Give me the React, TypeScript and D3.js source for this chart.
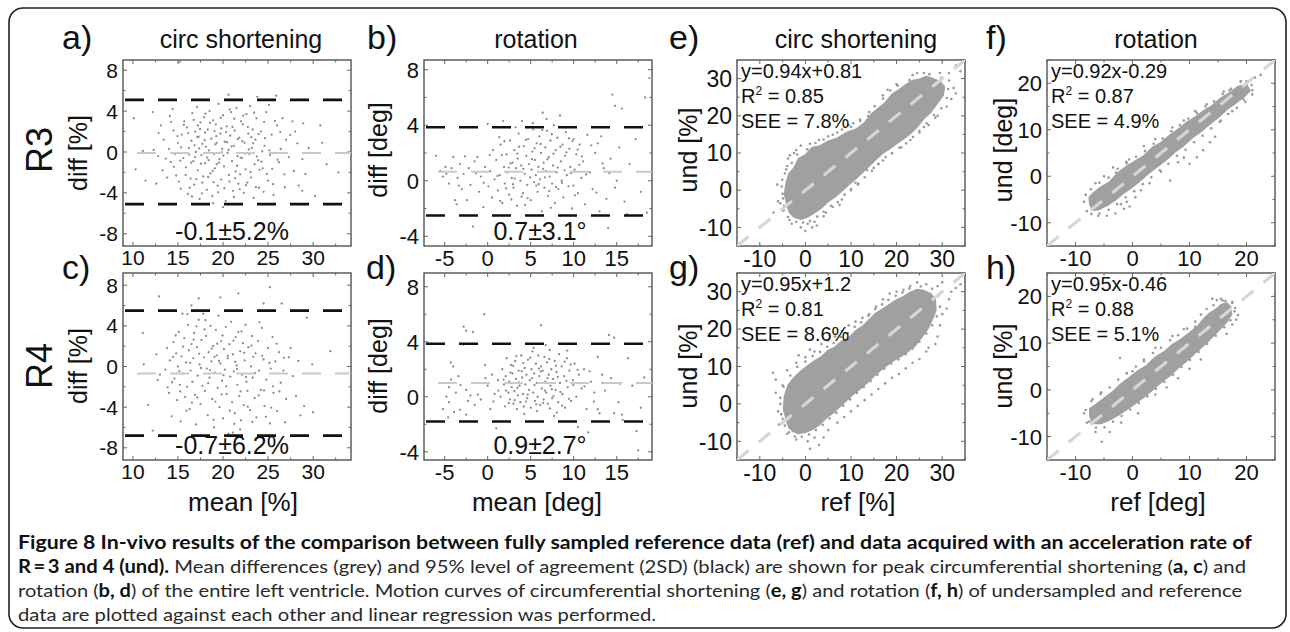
import * as d3 from "d3";

type P = [number, number];

// Bland-Altman points: [mean, diff]
const aPts: P[] = [
  [10.1,3.3],[11.1,0.1],[11.4,-2.8],[10.3,-1.7],[12.3,0.2],[12.8,-0.4],[13.1,2.6],[12.6,-3.1],[13.4,1.2],[13.3,-1.8],[12.2,3.9],
  [14.0,0.3],[14.2,-1.0],[14.5,2.1],[14.1,3.5],[14.8,-2.3],[15.0,0.9],[15.2,8.8],[15.3,-3.6],[15.4,1.7],[15.6,-0.6],[15.7,3.0],[15.9,-1.5],[16.0,2.4],[16.1,-4.1],[14.7,-0.2],[15.1,-2.9],[16.2,0.4],[13.8,-2.5],[14.4,4.2],[16.4,-2.6],
  [16.5,1.1],[16.6,3.8],[16.7,-0.9],[16.8,-3.2],[16.9,2.0],[17.0,0.0],[17.1,4.4],[17.2,-1.8],[17.3,1.5],[17.4,-4.6],[17.5,2.9],[17.6,-0.3],[17.7,0.8],[17.8,-2.4],[17.9,3.4],[18.0,-1.1],[16.3,-3.5],[17.2,2.6],[16.9,-0.5],[17.7,-3.0],[18.0,1.9],
  [18.1,0.5],[18.2,-3.7],[18.3,2.2],[18.4,-0.8],[18.5,4.0],[18.6,-2.1],[18.7,1.3],[18.8,-4.3],[18.9,3.1],[19.0,-0.2],[19.1,-1.6],[19.2,2.7],[19.3,0.9],[19.4,-3.3],[19.5,4.7],[19.6,-0.7],[19.7,1.8],[19.8,-2.7],[19.9,0.3],[20.0,3.6],[18.9,-5.0],[19.3,-1.2],[19.8,2.3],
  [20.1,-1.4],[20.2,1.0],[20.3,-4.8],[20.4,2.5],[20.5,-0.1],[20.6,5.6],[20.7,-2.9],[20.8,1.6],[20.9,3.9],[21.0,-0.9],[21.1,-3.8],[21.2,0.6],[21.3,2.1],[21.4,-1.9],[21.5,4.3],[21.6,-0.4],[21.7,-3.1],[21.8,1.4],[21.9,-2.2],[22.0,3.0],[20.0,-5.4],[21.2,-4.4],[20.6,0.2],
  [22.1,-0.6],[22.2,2.7],[22.3,-4.0],[22.4,0.9],[22.5,-1.7],[22.6,3.7],[22.7,-3.0],[22.8,1.8],[22.9,-0.2],[23.0,4.5],[23.1,-2.5],[23.2,0.4],[23.3,2.2],[23.4,-4.5],[23.5,-1.2],[23.6,1.2],[23.7,3.3],[23.8,5.4],[23.9,-0.8],[24.0,-3.5],
  [24.2,2.0],[24.4,-1.6],[24.6,0.6],[24.8,3.9],[25.0,-2.8],[25.2,-0.3],[25.4,1.7],[25.6,-4.2],[25.9,5.5],[26.0,2.6],[26.2,-1.0],[26.4,0.3],[26.6,3.3],[26.8,-2.2],[27.0,1.2],[25.1,4.6],[24.5,-3.9],
  [27.3,-0.5],[27.7,3.0],[28.0,2.0],[28.4,-3.3],[28.8,-0.7],[28.9,2.8],[28.8,-3.8],[29.5,0.4],[30.8,2.6],[31.0,0.9],[31.5,-1.2],[32.8,-2.0],[30.2,-4.3],
  [15.35,0.45],[15.85,-2.25],[16.15,1.85],[16.45,-1.05],[16.75,3.15],[17.05,-2.65],[17.35,0.35],[17.65,-4.05],[17.95,1.15],[18.25,-0.55],[18.55,2.85],[18.85,-1.85],[19.15,0.75],[19.45,-3.95],[19.75,3.35],[20.05,-0.35],[20.35,1.95],[20.65,-2.25],[20.95,0.55],[21.25,3.25],
  [21.55,-1.35],[21.85,-3.65],[22.15,1.05],[22.45,-0.15],[22.75,2.45],[23.05,-1.95],[23.35,0.85],[23.65,-3.45],[23.95,1.75],[24.25,-0.95],[24.55,2.95],[24.85,-2.15],[25.15,0.15],[25.45,-1.65],[25.75,3.05],[26.05,-0.75],[16.25,-0.25],[17.15,1.45],[18.05,3.75],[18.95,-2.95],
  [19.85,-0.05],[20.75,4.15],[21.65,1.25],[22.55,-3.25],[23.45,3.85],[24.35,0.05],[15.65,2.65],[16.55,-4.35],[17.45,2.25],[18.35,-2.45],[19.25,1.55],[20.15,-3.55],[21.05,2.45],[21.95,-0.55],[22.85,0.25],[23.75,-0.45],[24.65,1.35],[25.55,-3.15],[14.55,-1.45],[14.95,1.55],
  [15.25,-0.85],[16.85,0.65],[17.55,-1.15],[18.45,0.15],[19.05,2.05],[19.55,-1.05],[20.45,0.95],[21.35,-2.55],[22.25,3.55],[23.15,1.45],[24.05,-1.75],[26.35,1.95],[26.85,-3.45],[27.45,1.65],[14.25,2.95],[13.65,-0.65],[12.85,1.85],[27.85,-1.85],[29.15,-2.15],[28.25,0.85],
];

const bPts: P[] = [
  [-6.0,1.8],[-5.5,0.7],[-5.2,0.3],[-4.9,1.0],[-4.8,0.5],[-4.5,-0.2],[-4.2,0.9],[-4.0,1.7],[-3.8,-1.4],[-3.6,-1.7],[-3.5,0.2],[-3.2,1.2],[-3.0,-0.6],[-2.8,0.5],[-2.4,-1.4],[-2.2,0.9],[-2.0,-0.3],[-1.7,-3.3],[-1.5,1.4],[-1.2,1.7],[-1.0,-0.8],[-0.8,0.3],[-0.5,-1.9],[-0.3,1.0],[0.0,4.1],[0.1,-0.4],[0.3,0.7],[0.5,-1.2],[0.6,2.2],[0.8,0.1],
  [1.0,1.5],[1.2,-0.7],[1.4,0.4],[1.5,2.6],[1.7,-1.6],[1.8,4.3],[1.9,1.0],[2.0,-0.2],[2.2,1.9],[2.3,0.6],[2.5,-1.0],[2.6,2.9],[2.8,0.2],[2.9,1.3],[3.0,-0.5],[3.1,2.2],[3.3,0.9],[3.4,-1.8],[3.5,1.6],[3.6,3.4],[3.8,0.0],[3.9,1.1],[4.0,4.3],[4.1,-0.9],[4.2,2.5],[4.3,0.5],[4.5,1.8],[4.6,-0.3],[4.7,3.0],[4.8,1.2],
  [5.0,-1.4],[5.1,0.8],[5.2,2.1],[5.3,3.7],[5.4,-0.1],[5.5,1.5],[5.6,0.4],[5.7,2.7],[5.8,-0.8],[5.9,1.0],[6.0,3.2],[6.1,0.1],[6.2,2.0],[6.3,-2.2],[6.4,4.9],[6.5,1.3],[6.6,-0.5],[6.7,2.4],[6.8,0.7],[6.9,3.6],[7.0,-1.1],[7.1,1.7],[7.2,0.3],[7.3,2.9],[7.5,-0.2],[7.6,1.1],[7.7,4.0],[7.8,-1.6],[7.9,2.2],[8.0,0.6],
  [8.1,3.1],[8.2,-0.6],[8.4,4.7],[8.5,1.4],[8.6,0.0],[8.7,2.6],[8.8,-1.2],[9.0,1.8],[9.1,3.5],[9.2,0.4],[9.4,-0.4],[9.5,2.3],[9.6,1.0],[9.8,-2.0],[10.0,3.0],[10.1,0.8],[10.3,1.9],[10.5,-0.9],[10.7,2.6],[10.9,0.2],[11.1,1.4],[11.3,-1.7],
  [11.6,3.3],[11.9,0.6],[12.2,-0.6],[12.5,2.0],[12.8,2.7],[13.2,3.2],[13.0,-2.2],[13.5,0.9],[13.8,-1.3],[14.0,-3.4],[14.3,1.6],[14.5,6.2],[14.8,5.4],[14.8,-0.5],[15.0,0.0],[15.3,2.4],[15.6,5.2],[15.9,-1.5],[16.2,-2.4],[16.5,1.2],[17.2,3.0],[17.8,-0.8],[18.3,6.0],[18.8,7.4],[18.5,-2.3],
  [1.15,0.35],[1.65,1.85],[2.15,-0.55],[2.65,1.25],[3.15,0.15],[3.65,2.45],[4.15,0.85],[4.65,-1.25],[5.15,1.55],[5.65,-0.35],[6.15,2.65],[6.65,0.25],[7.15,-0.75],[7.65,1.95],[8.15,0.95],[8.65,-0.15],[9.15,2.05],[9.65,0.55],[10.15,-1.05],[10.65,1.15],
  [1.45,-1.45],[1.95,2.85],[2.45,0.95],[2.95,-0.25],[3.45,1.95],[3.95,-1.15],[4.45,2.95],[4.95,0.25],[5.45,2.35],[5.95,-0.25],[6.45,0.85],[6.95,1.55],[7.45,3.35],[7.95,-0.45],[8.45,2.45],[8.95,0.75],[9.45,3.05],[9.95,-0.35],[10.45,2.25],[10.95,1.75],
  [0.25,1.85],[-0.45,-0.15],[-1.35,0.55],[-2.65,1.75],[-3.35,-0.35],[11.45,0.45],[12.05,2.55],[12.65,-0.85],[13.35,1.25],[14.15,0.55],[5.25,4.15],[6.85,4.45],[3.25,3.85],[7.35,-1.95],[4.35,-1.75],[2.75,-1.35],[8.85,3.85],[9.85,2.85],[6.35,3.65],[1.35,3.15],
];

const cPts: P[] = [
  [11.1,3.3],[11.2,0.2],[11.7,-3.8],[12.9,6.9],[12.2,-6.3],[17.3,6.7],[19.7,6.8],[21.7,7.2],[25.2,7.8],[24.5,6.2],[26.5,6.2],[29.3,4.8],[29.9,0.2],[30.0,-4.5],[28.6,-4.8],[26.9,-5.5],[21.9,-6.2],[21.1,-6.5],[27.5,1.8],[31.9,1.5],[29.0,-3.9],[28.1,-2.9],
  [13.6,-0.3],[13.8,1.8],[14.0,-2.6],[14.1,0.6],[14.3,-4.9],[14.5,2.4],[14.6,-1.2],[14.8,1.3],[14.9,-3.3],[15.0,0.0],[15.1,3.4],[15.2,-1.8],[15.3,-5.4],[15.4,1.0],[15.6,-0.7],[15.7,2.8],[15.8,-3.0],[15.9,0.4],[16.0,-2.0],[16.1,4.1],[16.2,1.6],[16.3,-4.2],[16.4,-0.4],[16.5,2.2],
  [16.6,-1.5],[16.7,0.8],[16.8,3.3],[16.9,-2.8],[17.0,-5.7],[17.1,1.9],[17.2,-0.9],[17.3,4.6],[17.4,0.2],[17.5,-3.7],[17.6,2.6],[17.7,-1.9],[17.8,5.2],[17.9,0.9],[18.0,-2.4],[18.1,3.0],[18.2,-0.2],[18.3,-4.8],[18.4,1.4],[18.5,-1.1],[18.6,4.0],[18.7,0.5],[18.8,-3.2],[18.9,2.0],
  [19.0,-6.0],[19.1,-0.6],[19.2,3.6],[19.3,1.1],[19.4,-2.1],[19.5,5.0],[19.6,-4.0],[19.7,0.3],[19.8,2.5],[19.9,-1.4],[20.0,-5.1],[20.1,1.7],[20.2,-0.3],[20.3,3.9],[20.4,-2.7],[20.5,0.8],[20.6,-6.6],[20.7,2.2],[20.8,-1.0],[20.9,4.4],[21.0,-3.5],[21.1,1.2],[21.2,-0.5],[21.3,-4.6],
  [21.4,2.9],[21.5,0.1],[21.6,-1.8],[21.7,3.4],[21.8,-2.9],[21.9,1.5],[22.0,-5.3],[22.1,-0.8],[22.2,2.3],[22.3,-3.8],[22.4,0.6],[22.5,4.1],[22.6,-1.5],[22.7,-2.4],[22.8,1.9],[23.0,-4.3],[23.1,0.0],[23.2,3.0],[23.3,-1.1],[23.5,-3.1],[23.6,1.3],[23.7,-5.0],[23.9,2.5],[24.0,-0.4],
  [24.2,-2.3],[24.3,3.8],[24.5,0.7],[24.6,-3.9],[24.8,-1.3],[25.0,1.8],[25.2,-5.6],[25.3,-0.2],[25.5,2.9],[25.6,-2.6],[25.8,0.5],[26.0,-4.4],[26.2,1.4],[26.4,-1.6],[26.7,-0.4],[27.0,-3.2],[27.3,0.9],[13.0,-0.8],[12.6,1.2],[15.5,5.2],[16.5,6.0],
  [14.35,-1.55],[14.75,3.05],[15.15,-0.45],[15.55,1.95],[15.95,-4.35],[16.35,0.35],[16.75,2.65],[17.15,-3.05],[17.55,-0.15],[17.95,3.65],[18.35,-1.65],[18.75,1.75],[19.15,-3.45],[19.55,0.55],[19.95,3.05],[20.35,-1.95],[20.75,-4.35],[21.15,2.55],[21.55,-0.25],[21.95,-2.45],
  [22.35,1.35],[22.75,-3.95],[23.15,2.05],[23.55,-0.65],[23.95,-2.85],[24.35,1.05],[24.75,-4.95],[25.15,0.35],[25.55,-1.95],[25.95,2.25],[16.05,5.15],[17.05,3.95],[18.05,4.55],[18.95,-5.25],[19.85,-2.75],[20.25,5.45],[21.25,-5.65],[22.05,3.45],[23.25,-5.45],[24.05,4.35],
  [15.25,-2.45],[16.55,-3.55],[17.35,1.25],[18.55,-0.35],[19.35,2.25],[20.55,1.05],[21.35,0.45],[22.55,-1.05],[23.35,0.95],[24.55,-2.35],[25.35,-4.05],[26.25,-2.45],[26.75,0.85],[14.45,0.95],[13.85,-2.05],[12.75,-1.35],[27.75,-0.95],[28.35,0.55],[20.05,-0.85],[19.05,0.95],
];

const dPts: P[] = [
  [-5.2,-0.9],[-4.8,0.0],[-4.6,-1.5],[-4.5,0.7],[-4.5,-0.4],[-4.3,2.5],[-4.0,2.2],[-3.9,-1.1],[-3.7,0.3],[-3.4,1.5],[-3.2,-0.95],[-2.8,5.1],[-2.8,3.8],[-2.5,4.8],[-2.5,0.5],[-2.5,-1.3],[-2.3,-0.3],[-2.0,0.1],[-1.7,4.7],[-1.5,-0.6],[-1.2,1.0],[-0.8,-0.2],[-0.4,6.0],[-0.3,2.3],[0.0,0.8],[0.3,-0.9],[0.5,1.6],[0.8,0.2],[1.0,-2.3],[1.2,1.2],
  [1.5,0.0],[1.7,2.0],[1.9,0.9],[2.0,-0.7],[2.1,1.5],[2.2,2.8],[2.4,0.3],[2.5,1.1],[2.6,-0.2],[2.7,2.3],[2.8,0.7],[2.9,1.7],[3.0,-0.5],[3.1,0.4],[3.2,2.6],[3.3,1.3],[3.4,-0.9],[3.5,0.1],[3.6,1.9],[3.7,0.8],[3.8,-0.4],[3.9,3.0],[4.0,1.4],[4.1,0.2],[4.2,-0.7],[4.3,2.1],[4.4,0.9],[4.5,1.6],[4.6,-0.1],[4.7,2.7],
  [4.8,0.5],[4.9,1.2],[5.0,-0.8],[5.1,2.0],[5.2,3.3],[5.3,0.3],[5.4,1.7],[5.5,-0.3],[5.6,2.4],[5.7,1.0],[5.8,0.0],[5.9,3.0],[6.0,1.5],[6.1,-0.6],[6.2,5.2],[6.2,2.2],[6.3,0.6],[6.4,1.9],[6.5,-0.2],[6.6,2.9],[6.7,1.1],[6.8,0.3],[6.9,2.5],[7.0,-0.5],[7.1,1.6],[7.2,3.4],[7.3,0.8],[7.4,2.0],[7.5,-0.1],[7.6,1.3],
  [7.7,-1.4],[7.8,2.6],[7.9,0.5],[8.0,1.8],[8.2,-0.4],[8.3,3.1],[8.4,1.0],[8.6,2.2],[8.7,0.2],[8.9,1.5],[9.0,-0.8],[9.2,2.8],[9.3,0.7],[9.5,1.9],[9.7,-0.3],[9.9,1.2],[10.1,2.4],[10.3,0.0],[10.5,-2.2],[10.6,1.6],[10.9,0.6],[11.2,2.0],[11.5,-0.9],[11.7,-2.6],
  [12.0,1.1],[12.4,0.3],[12.8,2.9],[12.8,-0.9],[13.0,-1.2],[13.3,1.6],[13.4,1.0],[14.1,4.5],[14.7,4.3],[14.7,-1.2],[15.2,-0.4],[15.6,-1.3],[15.7,-1.7],[16.3,2.8],[16.8,0.8],[17.3,-2.5],[17.5,-3.9],[17.8,-0.8],[18.2,1.4],
  [2.15,0.45],[2.65,1.75],[3.15,-0.25],[3.65,1.05],[4.15,2.45],[4.65,0.15],[5.15,1.35],[5.65,-0.55],[6.15,1.85],[6.65,0.45],[7.15,2.75],[7.65,0.05],[8.15,1.45],[8.65,-0.65],[9.15,1.15],[9.65,2.35],[2.45,-0.45],[2.95,2.25],[3.45,0.65],[3.95,1.85],
  [4.45,-0.35],[4.95,2.85],[5.45,0.85],[5.95,2.05],[6.45,-0.45],[6.95,1.35],[7.45,0.55],[7.95,2.25],[8.45,0.35],[8.95,2.55],[9.45,-0.15],[9.95,0.85],[10.45,1.95],[1.85,1.25],[1.25,0.45],[0.65,-0.35],[-0.25,1.35],[-1.15,0.15],[-3.15,0.85],[-4.25,1.25],
  [11.25,0.75],[11.85,1.85],[12.35,-0.35],[13.65,0.45],[14.35,1.35],[15.35,0.95],[5.35,3.55],[6.75,3.75],[4.25,-1.25],[8.05,-1.15],[3.35,2.95],[7.25,-0.85],[5.75,-1.05],[9.25,3.35],
];

// limits of agreement and mean: [upper, mean, lower]
const aLines = [5.1, -0.1, -5.1];
const bLines = [3.85, 0.65, -2.5];
const cLines = [5.5, -0.7, -6.8];
const dLines = [3.85, 1.0, -1.8];
const baStats = ["-0.1\u00b15.2%", "0.7\u00b13.1\u00b0", "-0.7\u00b16.2%", "0.9\u00b12.7\u00b0"];

// regression panels: outline of the dense cloud [ref, und] and the scattered points around it
const eCloud: P[] = [[-4,-4],[-4.6,-1],[-4.2,2],[-3.6,4.5],[-2.5,6],[-1.5,8.5],[0,9.5],[1.5,11.5],[3,11.8],[5,13.2],[7,14],[9,15.5],[11,16.3],[13,18.2],[14.5,20.5],[16,22],[17.5,23.5],[19,25.8],[20.5,27],[22,28.3],[23.5,29.5],[25,29.8],[26.5,30.6],[28,30],[29.5,29.2],[30.5,27.8],[30.2,25.5],[29,23.5],[27.5,21],[26,19.3],[24.5,17],[23,15.2],[21.5,13.8],[20,12.5],[18.5,11.2],[17,10],[15.5,8.3],[14,6.5],[12.5,4.8],[11,3],[9.5,1.5],[8,-0.2],[6.5,-1.8],[5,-3],[3.5,-4.8],[2,-6],[0.5,-7.2],[-1,-7.8],[-2.5,-7.2],[-3.5,-6]];
const eOut: P[] = [[-6,-3],[-5.2,1],[-4.8,-5.5],[-3,-9],[-1,-10],[0.5,-9],[2,-8.5],[4,-7],[6,-4.5],[8,-2.5],[10,0],[11.5,1.5],[13.5,5.4],[15,6],[17,8],[19,10],[21,11.5],[23,13.5],[25,15.5],[27,17.5],[29,20],[31,22.5],[32,24.5],[33,26],[34,32],[33,33.5],[31.5,31.5],[29.5,31.5],[26,31.5],[23.5,31],[20,28.5],[17,25.5],[14,21],[12,19],[9.5,17.5],[7,15.5],[5,14.5],[3,13.5],[1,12.5],[-1,12],[-2.5,10],[-3.8,8.5],[-4.5,4.5],[-5,-1],[-3.5,-8],[1.5,-10],[-7,-6],[0,-11],[31.5,29.5],[32.5,27.5],[-6.2,1.5],[-5.5,-3.5],[2.5,-9.5],[7.5,-4],[16,7],[26,17],[24.5,31.5],[18,27],[10.5,18],[-2,10.8],[-4,6.5],[28.5,19.5],[11,2],[4.5,-6],[-3.4,9.4],
  [-4.9,-2.2],[-5.1,2.8],[-4.2,5.6],[-3,7.3],[-1.8,9.6],[0.4,11],[2.2,12.7],[4,13.6],[6,14.9],[8,16.3],[10,17],[12,18.6],[13.8,19.9],[15.2,22.6],[17,24.6],[18.6,26.8],[20.2,28.1],[22.8,29.6],[27.2,31.2],[29.8,30.2],[31.3,27.2],[31,24.8],[29.8,22],[28.2,20.2],[26.6,18],[25,16],[23.6,14.3],[22.1,12.6],[20.6,11.4],[19,9.9],[17.6,8.9],[16,7.1],[14.6,5.2],[13,3.5],[11.6,1.8],[10,0.3],[8.6,-1.2],[7.1,-3.2],[5.6,-4.2],[4,-5.8],[2.6,-7.1],[1,-8.3],[-0.5,-8.7],[-2,-8.5],[-3.8,-7.2],[-4.7,-4.2]];
const fCloud: P[] = [[-7.5,-6],[-7.6,-4.5],[-6.8,-3.5],[-5.5,-2.3],[-4,-1.2],[-2.5,0.8],[-1,2.2],[0.5,3.3],[2,4.4],[3.5,6.2],[5,7.2],[6.5,8.8],[8,10.1],[9.5,11.6],[11,12.7],[12.5,14.1],[14,15.2],[15.5,16.8],[17,17.9],[18.5,19.3],[20,19.8],[20.6,18.4],[19.5,17],[18,15.6],[16.5,14.3],[15,12.6],[13.5,11.2],[12,9.6],[10.5,8.3],[9,6.6],[7.5,5.3],[6,3.6],[4.5,2.2],[3,0.8],[1.5,-0.8],[0,-2.3],[-1.5,-3.6],[-3,-5.1],[-4.5,-6.3],[-6,-7.2],[-7,-7.3]];
const fOut: P[] = [[-8.5,-5.5],[-8,-7.5],[-6,-8.5],[-4.5,-8.5],[-3,-8],[-2,-6],[-1.5,-7],[-1,-5.5],[-0.5,-6.5],[0.5,-4.5],[-3.4,1.9],[-1,2.8],[-2.9,0.8],[-0.6,3.6],[-5,0],[-6.5,-1.5],[12.4,5.6],[11.3,4.1],[10,2.7],[6.6,-0.9],[13.6,7.3],[14.5,8.5],[9,4],[8,3],[18.3,17.8],[20,20.4],[21.5,21.2],[22.5,21.8],[19,20.5],[17,18.5],[16,18.2],[13,15.5],[11,14],[9,12],[7,10.5],[4,8],[2,6.5],[15.5,12],[17.5,14],[19.5,16.5],[21,18.5],[3,-1.5],[5,1],[1.5,-3],
  [-8.2,-4],[-7.3,-2.8],[-5.8,-1.4],[-4.2,-0.3],[-2.6,1.6],[-1.1,3.1],[0.6,4.2],[2.2,5.4],[3.7,7],[5.3,8.1],[6.8,9.7],[8.3,11],[9.8,12.4],[11.3,13.6],[12.8,15],[14.3,16.1],[15.8,17.7],[17.3,18.8],[19,20.3],[20.9,19.6],[21,17.6],[19.8,16],[18.3,14.7],[16.8,13.4],[15.3,11.7],[13.8,10.3],[12.3,8.7],[10.8,7.3],[9.3,5.7],[7.8,4.4],[6.3,2.7],[4.8,1.3],[3.3,-0.2],[1.8,-1.7],[0.3,-3.2],[-1.2,-4.5],[-2.7,-6],[-4.2,-7.2],[-5.8,-8],[-7.2,-8.1]];
const gCloud: P[] = [[-4,-5],[-4.8,-1.5],[-4.6,2],[-3.8,5],[-2.5,7],[-1,8.8],[0.5,10.2],[2,11.5],[3.5,12.6],[5,14.3],[6.5,15.2],[8,16.8],[9.5,17.6],[11,19.5],[12.5,20.7],[14,22.5],[15.5,24.3],[17,25.4],[18.5,26.6],[20,27.8],[21.5,28.7],[23,29.8],[24.5,30.6],[26,30.3],[27.5,29.5],[28.5,27.8],[28.6,25],[27.8,22.5],[26.8,20],[25.5,17.8],[24,15.5],[22.5,14],[21,12.8],[19.5,11.7],[18,10.4],[16.5,9],[15,7.4],[13.5,5.6],[12,4],[10.5,2.6],[9,0.9],[7.5,-0.8],[6,-2.5],[4.5,-3.8],[3,-5.6],[1.5,-6.8],[0,-7.6],[-1.5,-7.9],[-2.8,-7.3],[-3.6,-6.3]];
const gOut: P[] = [[-7.1,8.3],[-6.5,6.5],[-5.5,0],[-5,-4],[-4,-8],[-2,-9.5],[0.5,-10],[2,-9],[5,-7],[7,-5],[10,-2],[13,1],[16,4],[19,7],[22,9.5],[25,12],[27,15],[29,18],[29.5,21],[30,24],[31.5,28],[33,31],[34,32],[29,31.5],[26.5,32],[23,31.5],[20,30],[17,28],[14,24],[11,22],[8,19.5],[5,17],[2,14],[0,12.5],[-2,11],[-4,9],[-5,5],[-6,-2],[1,-12],[3,-11],[-6.5,3],[-5.8,-5.5],[4,-9],[8.5,-3.5],[11.5,-0.5],[14.5,2.5],[17.5,5.5],[20.5,8],[23.5,11],[26.5,14],[28.5,16],[31,25.5],[32,30],[30,32.5],[24.5,32.5],[21.5,30.5],[18.5,29.5],[15.5,26],[12.5,23],[9.5,21],[6.5,18],[3.5,16],[1,14.5],[-1.5,13],
  [-5.3,-2.8],[-5.5,1.6],[-4.8,4.6],[-3.3,7.6],[-1.8,9.9],[0,11.3],[1.6,12.8],[3.2,13.9],[4.8,15.3],[6.2,16.3],[7.8,17.9],[9.3,18.9],[10.8,20.6],[12.2,21.8],[13.8,23.6],[15.3,25.4],[16.8,26.6],[18.2,27.8],[19.8,28.9],[21.3,29.8],[22.8,30.9],[25.3,31.4],[27.8,30.8],[29.2,28.9],[29.5,26],[28.8,23.4],[27.8,21],[26.5,18.8],[25,16.6],[23.5,14.8],[22,13.3],[20.4,11.9],[18.8,10.8],[17.3,9.4],[15.8,7.8],[14.3,6.1],[12.8,4.5],[11.3,2.9],[9.8,1.2],[8.3,-0.5],[6.8,-2.4],[5.3,-3.9],[3.8,-5.6],[2.3,-7],[0.8,-8.2],[-0.8,-8.8],[-2.3,-8.7],[-3.6,-7.6],[-4.5,-5.8]];
const hCloud: P[] = [[-7.5,-5.5],[-7.5,-4],[-6.5,-3.2],[-5,-1.8],[-3.5,-0.4],[-2,1.3],[-0.5,2.7],[1,4.1],[2.5,5.2],[4,7],[5.5,8.1],[7,9.7],[8.5,10.8],[10,12.2],[11.5,13.7],[12.5,15.2],[13.5,16.4],[14.5,17.1],[15.5,18.2],[16.5,18.6],[17.2,17.8],[17.4,16.2],[16.6,14.6],[15.5,13.2],[14,11.3],[12.5,9.5],[11,7.9],[9.5,6.2],[8,4.7],[6.5,3],[5,1.6],[3.5,0],[2,-1.5],[0.5,-2.9],[-1,-4.2],[-2.5,-5.4],[-4,-6.4],[-5.5,-7.2],[-7,-7.2]];
const hOut: P[] = [[-5.4,-11.1],[-2.2,6.8],[-8.5,-5],[-8,-7],[-6.5,-9],[-4,-9],[-3,-1.5],[14.8,19.2],[15.5,19.5],[16.3,19],[17.5,18.8],[18,17.5],[17.5,14],[15.9,15],[16.5,12],[13,15.5],[11,13.5],[2,6.5],[0,4],[-1,3.5],[4,-1],[6,0.5],[8,2.5],[10,4.5],[12,6.5],[18.5,16],[-5.5,-0.5],[-7,-2],[-2,-7],[1,-5],[7,11.5],[9,13],[4,9],[18.2,15],[14,19.5],[-6,-4],
  [-8.2,-4.3],[-7.2,-2.4],[-5.6,-0.9],[-4,0.5],[-2.5,2.2],[-1,3.6],[0.6,5],[2,6.1],[3.6,7.9],[5,9],[6.6,10.6],[8,11.7],[9.6,13.1],[11,14.6],[12,16.1],[13,17.3],[14.2,18.1],[15.8,19.1],[17.5,18.6],[17.9,16.8],[17.2,14.9],[16.1,13.4],[14.6,11.6],[13.1,9.8],[11.6,8.1],[10.1,6.4],[8.6,4.9],[7.1,3.2],[5.6,1.7],[4.1,0.2],[2.6,-1.4],[1.1,-2.8],[-0.4,-4.2],[-1.9,-5.6],[-3.4,-6.8],[-4.9,-8],[-6.4,-8.1],[-7.6,-6.8]];

const regEq = ["y=0.94x+0.81", "y=0.92x-0.29", "y=0.95x+1.2", "y=0.95x-0.46"];
const regR2 = ["0.85", "0.87", "0.81", "0.88"];
const regSEE = ["7.8%", "4.9%", "8.6%", "5.1%"];

const xTicksCirc = [10, 15, 20, 25, 30];
const yTicksDiffCirc = [-8, -4, 0, 4, 8];
const xTicksRot = [-5, 0, 5, 10, 15];
const yTicksDiffRot = [-4, 0, 4, 8];
const ticksRegCirc = [-10, 0, 10, 20, 30];
const ticksRegRot = [-10, 0, 10, 20];

const SANS = "'Liberation Sans', Arial, Helvetica, sans-serif";

type Box = { x: number; y: number; w: number; h: number };

function Frame({ id, box, x, y, xTicks, yTicks, xStep, yStep, fs }: any) {
  const [x0, x1] = x.domain();
  const [y0, y1] = y.domain();
  const xm = d3.range(Math.ceil(x0 / xStep) * xStep, x1 + 1e-9, xStep);
  const ym = d3.range(Math.ceil(y0 / yStep) * yStep, y1 + 1e-9, yStep);
  const bottom = box.y + box.h;
  const right = box.x + box.w;
  return (
    <g>
      <clipPath id={id}>
        <rect x={box.x} y={box.y} width={box.w} height={box.h} />
      </clipPath>
      <rect x={box.x} y={box.y} width={box.w} height={box.h} fill="none" stroke="#444" strokeWidth={1.3} />
      <g stroke="#666" strokeWidth={1}>
        {xm.map((v: number, i: number) => {
          const L = xTicks.includes(+v.toFixed(3)) ? 4 : 2.5;
          return (
            <g key={"x" + i}>
              <line x1={x(v)} x2={x(v)} y1={bottom} y2={bottom - L} />
              <line x1={x(v)} x2={x(v)} y1={box.y} y2={box.y + L} />
            </g>
          );
        })}
        {ym.map((v: number, i: number) => {
          const L = yTicks.includes(+v.toFixed(3)) ? 4 : 2.5;
          return (
            <g key={"y" + i}>
              <line x1={box.x} x2={box.x + L} y1={y(v)} y2={y(v)} />
              <line x1={right} x2={right - L} y1={y(v)} y2={y(v)} />
            </g>
          );
        })}
      </g>
      <g fontFamily={SANS} fontSize={fs} fill="#111">
        {xTicks.map((v: number) => (
          <text key={"xl" + v} x={x(v)} y={bottom + 4 + fs * 0.72} textAnchor="middle">
            {String(v)}
          </text>
        ))}
        {yTicks.map((v: number) => (
          <text key={"yl" + v} x={box.x - 5} y={y(v)} dy="0.36em" textAnchor="end">
            {String(v)}
          </text>
        ))}
      </g>
    </g>
  );
}

function BAPanel({ id, box, xd, yd, pts, lines, stat, statX, xTicks, yTicks, xStep, yStep, fs }: any) {
  const x = d3.scaleLinear().domain(xd).range([box.x, box.x + box.w]);
  const y = d3.scaleLinear().domain(yd).range([box.y + box.h, box.y]);
  return (
    <g>
      <Frame id={id} box={box} x={x} y={y} xTicks={xTicks} yTicks={yTicks} xStep={xStep} yStep={yStep} fs={fs} />
      <g clipPath={`url(#${id})`}>
        {pts.map((p: P, i: number) => (
          <circle key={i} cx={x(p[0])} cy={y(p[1])} r={1.15} fill="#8c8c8c" />
        ))}
        <line x1={box.x} x2={box.x + box.w} y1={y(lines[1])} y2={y(lines[1])} stroke="#c9c9c9" strokeWidth={2} strokeDasharray="19 14" strokeDashoffset={-14} />
        {[lines[0], lines[2]].map((v: number, i: number) => (
          <line key={i} x1={box.x} x2={box.x + box.w} y1={y(v)} y2={y(v)} stroke="#111" strokeWidth={2.6} strokeDasharray="19 14" strokeDashoffset={-2} />
        ))}
      </g>
      <text x={statX} y={box.y + box.h - 6} textAnchor="middle" fontFamily={SANS} fontSize={25} fill="#111">
        {stat}
      </text>
    </g>
  );
}

function RegPanel({ id, box, dom, cloud, out, eq, r2, see, ticks, fs }: any) {
  const x = d3.scaleLinear().domain(dom).range([box.x, box.x + box.w]);
  const y = d3.scaleLinear().domain(dom).range([box.y + box.h, box.y]);
  const area = d3.line<P>().x((d) => x(d[0])).y((d) => y(d[1])).curve(d3.curveLinearClosed);
  const tx = box.x + 4;
  const ty = box.y + 18;
  return (
    <g>
      <Frame id={id} box={box} x={x} y={y} xTicks={ticks} yTicks={ticks} xStep={5} yStep={5} fs={fs} />
      <g clipPath={`url(#${id})`}>
        <path d={area(cloud) || ""} fill="#a0a0a0" stroke="#a0a0a0" strokeWidth={1.5} strokeLinejoin="round" />
        {out.map((p: P, i: number) => (
          <circle key={i} cx={x(p[0])} cy={y(p[1])} r={1.3} fill="#9a9a9a" />
        ))}
        <line x1={x(dom[0])} y1={y(dom[0])} x2={x(dom[1])} y2={y(dom[1])} stroke="#d6d6d6" strokeWidth={3.2} strokeDasharray="15 13" />
      </g>
      <g fontFamily={SANS} fontSize={20} fill="#111">
        <text x={tx} y={ty}>{eq}</text>
        <text x={tx} y={ty + 25}>
          R<tspan dy={-8} fontSize={12}>2</tspan>
          <tspan dy={8}>{" = " + r2}</tspan>
        </text>
        <text x={tx} y={ty + 50}>{"SEE = " + see}</text>
      </g>
    </g>
  );
}

const row1 = 60;
const row2 = 273;
const boxA: Box = { x: 123, y: row1, w: 228, h: 186 };
const boxB: Box = { x: 424, y: row1, w: 228, h: 186 };
const boxE: Box = { x: 737, y: row1, w: 228, h: 186 };
const boxF: Box = { x: 1047, y: row1, w: 228, h: 186 };
const boxC: Box = { x: 123, y: row2, w: 228, h: 187 };
const boxD: Box = { x: 424, y: row2, w: 228, h: 187 };
const boxG: Box = { x: 737, y: row2, w: 228, h: 187 };
const boxH: Box = { x: 1047, y: row2, w: 228, h: 187 };

function Rot({ x, y, size, children }: any) {
  return (
    <text transform={`translate(${x},${y}) rotate(-90)`} textAnchor="middle" dy="0.36em" fontFamily={SANS} fontSize={size} fill="#111">
      {children}
    </text>
  );
}

export default function App() {
  const capFont = "Lato, 'Open Sans', sans-serif";
  return (
    <svg width={1290} height={632} style={{ position: "absolute", left: 0, top: 0, background: "#fff" }}>
      <rect x={0} y={0} width={1290} height={632} fill="#fff" />
      <rect x={9} y={8} width={1277} height={620} rx={14} fill="none" stroke="#222" strokeWidth={1.6} />

      {/* titles and panel letters */}
      <g fontFamily={SANS} fill="#111">
        <text x={241} y={48} fontSize={25} textAnchor="middle">circ shortening</text>
        <text x={536} y={48} fontSize={25} textAnchor="middle">rotation</text>
        <text x={856} y={48} fontSize={25} textAnchor="middle">circ shortening</text>
        <text x={1156} y={48} fontSize={25} textAnchor="middle">rotation</text>
        <text x={62} y={49} fontSize={34}>a)</text>
        <text x={367} y={49} fontSize={34}>b)</text>
        <text x={669} y={49} fontSize={34}>e)</text>
        <text x={986} y={49} fontSize={34}>f)</text>
        <text x={62} y={279} fontSize={34}>c)</text>
        <text x={366} y={279} fontSize={34}>d)</text>
        <text x={669} y={279} fontSize={34}>g)</text>
        <text x={986} y={279} fontSize={34}>h)</text>
      </g>

      <Rot x={39} y={150} size={36}>R3</Rot>
      <Rot x={39} y={366} size={36}>R4</Rot>
      <Rot x={78} y={153} size={25}>diff [%]</Rot>
      <Rot x={78} y={366} size={25}>diff [%]</Rot>
      <Rot x={378} y={150} size={25}>diff [deg]</Rot>
      <Rot x={378} y={366} size={25}>diff [deg]</Rot>
      <Rot x={688} y={150} size={25}>und [%]</Rot>
      <Rot x={688} y={366} size={25}>und [%]</Rot>
      <Rot x={1003} y={150} size={25}>und [deg]</Rot>
      <Rot x={1003} y={366} size={25}>und [%]</Rot>

      <BAPanel id="pa" box={boxA} xd={[8.9, 34.2]} yd={[-9.2, 9]} pts={aPts} lines={aLines} stat={baStats[0]} statX={232} xTicks={xTicksCirc} yTicks={yTicksDiffCirc} xStep={2.5} yStep={2} fs={21} />
      <BAPanel id="pb" box={boxB} xd={[-7.4, 19.1]} yd={[-4.7, 8.7]} pts={bPts} lines={bLines} stat={baStats[1]} statX={540} xTicks={xTicksRot} yTicks={yTicksDiffRot} xStep={2.5} yStep={2} fs={22} />
      <BAPanel id="pc" box={boxC} xd={[8.9, 34.2]} yd={[-9.2, 9.2]} pts={cPts} lines={cLines} stat={baStats[2]} statX={232} xTicks={xTicksCirc} yTicks={yTicksDiffCirc} xStep={2.5} yStep={2} fs={21} />
      <BAPanel id="pd" box={boxD} xd={[-7.4, 19.1]} yd={[-4.6, 9.0]} pts={dPts} lines={dLines} stat={baStats[3]} statX={540} xTicks={xTicksRot} yTicks={yTicksDiffRot} xStep={2.5} yStep={2} fs={22} />

      <RegPanel id="pe" box={boxE} dom={[-15, 35]} cloud={eCloud} out={eOut} eq={regEq[0]} r2={regR2[0]} see={regSEE[0]} ticks={ticksRegCirc} fs={23} />
      <RegPanel id="pf" box={boxF} dom={[-15, 25]} cloud={fCloud} out={fOut} eq={regEq[1]} r2={regR2[1]} see={regSEE[1]} ticks={ticksRegRot} fs={22} />
      <RegPanel id="pg" box={boxG} dom={[-15, 35]} cloud={gCloud} out={gOut} eq={regEq[2]} r2={regR2[2]} see={regSEE[2]} ticks={ticksRegCirc} fs={23} />
      <RegPanel id="ph" box={boxH} dom={[-15, 25]} cloud={hCloud} out={hOut} eq={regEq[3]} r2={regR2[3]} see={regSEE[3]} ticks={ticksRegRot} fs={22} />

      {/* x axis labels */}
      <g fontFamily={SANS} fontSize={26} fill="#111" textAnchor="middle">
        <text x={243} y={511}>mean [%]</text>
        <text x={537} y={511}>mean [deg]</text>
        <text x={858} y={511}>ref [%]</text>
        <text x={1158} y={511}>ref [deg]</text>
      </g>

      {/* caption */}
      <g fontFamily={capFont} fontSize={18} fill="#2a2a2a">
        <text x={18} y={549} textLength={1234} lengthAdjust="spacingAndGlyphs" fontWeight={700} fill="#111">
          Figure 8 In-vivo results of the comparison between fully sampled reference data (ref) and data acquired with an acceleration rate of
        </text>
        <text x={18} y={573} textLength={1228} lengthAdjust="spacingAndGlyphs">
          <tspan fontWeight={700} fill="#111">{"R\u2009=\u20093 and 4 (und)."}</tspan>
          {" Mean differences (grey) and 95% level of agreement (2SD) (black) are shown for peak circumferential shortening ("}
          <tspan fontWeight={700} fill="#111">a, c</tspan>
          {") and"}
        </text>
        <text x={18} y={597} textLength={1224} lengthAdjust="spacingAndGlyphs">
          {"rotation ("}
          <tspan fontWeight={700} fill="#111">b, d</tspan>
          {") of the entire left ventricle. Motion curves of circumferential shortening ("}
          <tspan fontWeight={700} fill="#111">e, g</tspan>
          {") and rotation ("}
          <tspan fontWeight={700} fill="#111">f, h</tspan>
          {") of undersampled and reference"}
        </text>
        <text x={18} y={621} textLength={638} lengthAdjust="spacingAndGlyphs">
          data are plotted against each other and linear regression was performed.
        </text>
      </g>
    </svg>
  );
}
